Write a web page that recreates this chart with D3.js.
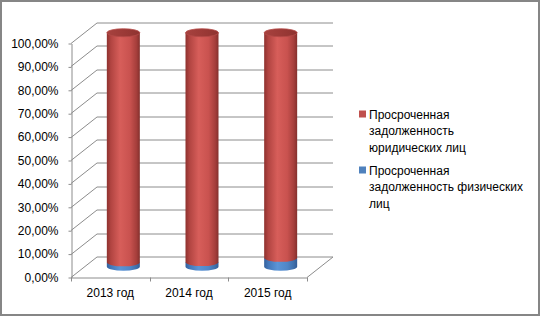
<!DOCTYPE html>
<html><head><meta charset="utf-8">
<script src="https://cdn.jsdelivr.net/npm/d3@7"></script>
<style>html,body{margin:0;padding:0;background:#fff}svg{display:block}</style>
</head><body>
<script>
const categories = ["2013 год", "2014 год", "2015 год"];
const physical = [1.9, 2.0, 3.8];
const legal = [98.1, 98.0, 96.2];
const tickValues = [0, 10, 20, 30, 40, 50, 60, 70, 80, 90, 100];
const seriesNames = ["Просроченная задолженность юридических лиц", "Просроченная задолженность физических лиц"];
const legendLines = [["Просроченная", "задолженность", "юридических лиц"], ["Просроченная", "задолженность физических", "лиц"]];

const W = 540, H = 316;
const font = "'Liberation Sans', Arial, sans-serif";
const svg = d3.select("body").append("svg").attr("width", W).attr("height", H);
const defs = svg.append("defs");

function hGrad(id, stops) {
  const g = defs.append("linearGradient").attr("id", id).attr("x1", 0).attr("x2", 1).attr("y1", 0).attr("y2", 0);
  stops.forEach(s => g.append("stop").attr("offset", s[0]).attr("stop-color", s[1]));
}
hGrad("redSide", [[0, "#8e312e"], [0.12, "#b14441"], [0.4, "#d75e5a"], [0.7, "#c9524f"], [0.9, "#a53e3b"], [1, "#84302d"]]);
hGrad("blueSide", [[0, "#33609c"], [0.12, "#4276b8"], [0.4, "#5b94d6"], [0.7, "#4f86c8"], [0.9, "#3f6faa"], [1, "#335c96"]]);
hGrad("redTop", [[0, "#a7423f"], [0.5, "#9c3a37"], [1, "#8e3330"]]);

// border
svg.append("rect").attr("x", 1).attr("y", 1).attr("width", W - 2).attr("height", H - 2)
  .attr("fill", "#fff").attr("stroke", "#868686").attr("stroke-width", 2);

const x = d3.scaleBand().domain(categories).range([71, 307]).padding(0);
const y = d3.scaleLinear().domain([0, 100]).range([277, 43]);
const dx = 26, dy = -20.5;
const gridColor = "#8c8c8c";

// back wall gridlines + diagonals
const grid = svg.append("g").attr("stroke", gridColor).attr("stroke-width", 1).attr("fill", "none");
tickValues.forEach(v => {
  const yf = Math.round(y(v)) + 0.5;
  const yb = yf + dy;
  grid.append("line").attr("x1", 71 + dx).attr("x2", 307 + dx).attr("y1", yb).attr("y2", yb);
  grid.append("line").attr("x1", 71).attr("y1", yf).attr("x2", 71 + dx).attr("y2", yb);
});
// floor right diagonal
grid.append("line").attr("x1", 307).attr("y1", Math.round(y(0)) + 0.5).attr("x2", 307 + dx).attr("y2", Math.round(y(0)) + 0.5 + dy);

// y axis
const fmtLocale = d3.formatLocale({decimal: ",", thousands: " ", grouping: [3], currency: ["", ""]});
const fmt = v => fmtLocale.format(".2f")(v) + "%";
const yAxis = svg.append("g").attr("transform", "translate(71.5,0.5)")
  .call(d3.axisLeft(y).tickValues(tickValues).tickFormat(fmt).tickSize(3).tickSizeOuter(0).tickPadding(10));
yAxis.selectAll("path,line").attr("stroke", gridColor);
yAxis.selectAll("text").attr("font-family", font).attr("font-size", 12).attr("fill", "#000");

// x axis
const xAxis = svg.append("g").attr("transform", "translate(0," + (Math.round(y(0)) + 0.5) + ")")
  .call(d3.axisBottom(x).tickSize(0).tickPadding(11).tickSizeOuter(0));
xAxis.select(".domain").attr("stroke", gridColor);
xAxis.selectAll("text").attr("font-family", font).attr("font-size", 12).attr("fill", "#000");
const boundaries = categories.map(c => x(c)).concat([x(categories[categories.length - 1]) + x.bandwidth()]);
xAxis.selectAll(".bnd").data(boundaries).join("line").attr("class", "bnd")
  .attr("x1", d => Math.round(d) + 0.5).attr("x2", d => Math.round(d) + 0.5).attr("y1", 0).attr("y2", 4)
  .attr("stroke", gridColor);

// cylinders
const rx = 16.5, ry = 4;
function sidePath(cx, yTop, yBot) {
  return `M${cx - rx},${yTop} L${cx - rx},${yBot} A${rx},${ry} 0 0 0 ${cx + rx},${yBot} L${cx + rx},${yTop} Z`;
}
const cyl = svg.append("g");
categories.forEach((c, i) => {
  const cx = x(c) + x.bandwidth() / 2 + dx / 2;
  const yp = v => y(v) + dy / 2;
  const p0 = 0, p1 = physical[i], p2 = physical[i] + legal[i];
  cyl.append("path").attr("d", sidePath(cx, yp(p1), yp(p0))).attr("fill", "url(#blueSide)");
  cyl.append("path").attr("d", sidePath(cx, yp(p2), yp(p1))).attr("fill", "url(#redSide)");
  cyl.append("ellipse").attr("cx", cx).attr("cy", yp(p2)).attr("rx", rx).attr("ry", ry)
    .attr("fill", "url(#redTop)").attr("stroke", "#b44a47").attr("stroke-width", 0.8);
});

// legend
const colors = ["#c0504d", "#4f81bd"];
const leg = svg.append("g");
const legTop = [110.5, 166.5];
seriesNames.forEach((s, i) => {
  const g = leg.append("g").attr("aria-label", s);
  g.append("rect").attr("x", 359).attr("y", legTop[i]).attr("width", 7).attr("height", 7).attr("fill", colors[i]);
  const t = g.append("text").attr("font-family", font).attr("font-size", 12).attr("fill", "#000");
  legendLines[i].forEach((ln, j) => {
    t.append("tspan").attr("x", 369).attr("y", legTop[i] + 8 + j * 16.5).text(ln);
  });
});
</script>
</body></html>
